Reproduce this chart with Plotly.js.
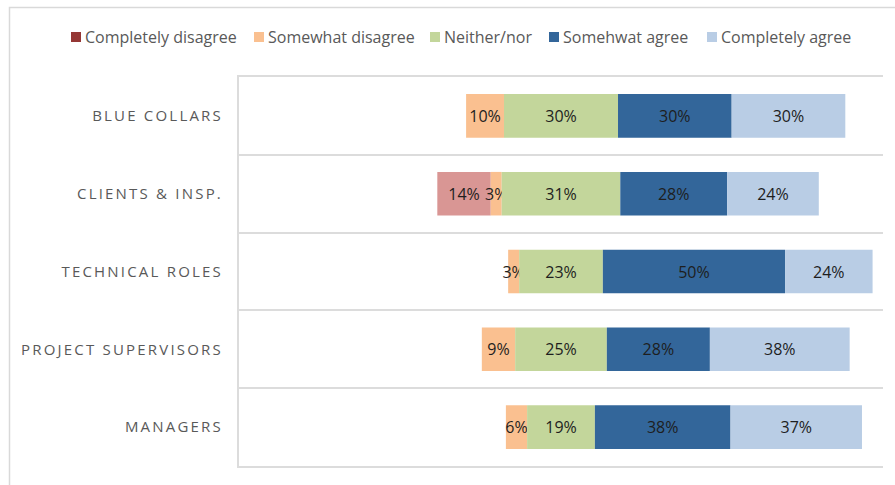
<!DOCTYPE html>
<html>
<head>
<meta charset="utf-8">
<script src="https://cdn.plot.ly/plotly-3.0.1.min.js"></script>
<style>
  html, body { margin: 0; padding: 0; background: #fff; }
  #chart { width: 895px; height: 485px; }
  #chart .ytick text { letter-spacing: 2.2px; }
</style>
</head>
<body>
<div id="chart"></div>
<script>
// Categories (top to bottom)
const categories = ['BLUE COLLARS', 'CLIENTS & INSP.', 'TECHNICAL ROLES', 'PROJECT SUPERVISORS', 'MANAGERS'];
const seriesNames = ['Completely disagree', 'Somewhat disagree', 'Neither/nor', 'Somehwat agree', 'Completely agree'];

// Bar lengths
const completelyDisagree = [0, 14.1, 0, 0, 0];
const somewhatDisagree   = [10.0, 2.9, 2.9, 8.8, 5.6];
const neitherNor         = [30.1, 31.3, 22.1, 24.2, 17.9];
const somewhatAgree      = [30.0, 28.2, 48.1, 27.2, 35.8];
const completelyAgree    = [30.0, 24.2, 23.1, 36.9, 34.7];

// Printed data labels
const cdLabels = ['', '14%', '', '', ''];
const sdLabels = ['10%', '3%', '3%', '9%', '6%'];
const nnLabels = ['30%', '31%', '23%', '25%', '19%'];
const saLabels = ['30%', '28%', '50%', '28%', '38%'];
const caLabels = ['30%', '24%', '24%', '38%', '37%'];

const barColors    = ['#d99694', '#fac090', '#c3d69b', '#33669a', '#b9cde5'];
const legendColors = ['#953735', '#fac090', '#c3d69b', '#33669a', '#b9cde5'];

// diverging bases: Neither/nor centred on zero
const nnBase = neitherNor.map(v => -v / 2);
const sdBase = neitherNor.map((v, i) => -v / 2 - somewhatDisagree[i]);
const cdBase = neitherNor.map((v, i) => -v / 2 - somewhatDisagree[i] - completelyDisagree[i]);
const saBase = neitherNor.map(v => v / 2);
const caBase = neitherNor.map((v, i) => v / 2 + somewhatAgree[i]);

const seriesVals = [completelyDisagree, somewhatDisagree, neitherNor, somewhatAgree, completelyAgree];
const seriesBase = [cdBase, sdBase, nnBase, saBase, caBase];
const seriesText = [cdLabels, sdLabels, nnLabels, saLabels, caLabels];

const traces = seriesVals.map((vals, k) => ({
  type: 'bar',
  orientation: 'h',
  name: seriesNames[k],
  y: categories,
  x: vals,
  base: seriesBase[k],
  text: seriesText[k],
  textposition: 'inside',
  insidetextanchor: 'middle',
  textangle: 0,
  constraintext: 'none',
  cliponaxis: false,
  textfont: { family: 'Open Sans, sans-serif', size: 16, color: '#1e1e1e' },
  marker: { color: barColors[k], line: { width: 0 } },
  hoverinfo: 'skip',
  showlegend: false
}));

// page geometry
const W = 895, H = 485;
const M = { l: 239, r: 12, t: 77, b: 19 };
const PW = W - M.l - M.r, PH = H - M.t - M.b;
const px2x = px => (px - M.l) / PW;
const py2y = py => (H - M.b - py) / PH;

// manual legend (square + text)
const legendSquareX = [71, 254, 430, 549, 707];
const legendY = 37;
const shapes = [];
const annotations = [];
seriesNames.forEach((nm, k) => {
  shapes.push({
    type: 'rect', xref: 'paper', yref: 'paper',
    x0: px2x(legendSquareX[k]), x1: px2x(legendSquareX[k] + 10),
    y0: py2y(legendY + 5), y1: py2y(legendY - 5),
    fillcolor: legendColors[k], line: { width: 0 }
  });
  annotations.push({
    xref: 'paper', yref: 'paper',
    x: px2x(legendSquareX[k] + 12), y: py2y(legendY),
    xanchor: 'left', yanchor: 'middle', showarrow: false,
    text: nm,
    font: { family: 'Open Sans, sans-serif', size: 16, color: '#595959' }
  });
});
// outer chart border
shapes.push({
  type: 'rect', xref: 'paper', yref: 'paper', layer: 'below',
  x0: px2x(9.5), x1: px2x(905), y0: py2y(495), y1: py2y(7.5),
  line: { color: '#d9d9d9', width: 1.5 }, fillcolor: 'rgba(0,0,0,0)'
});

const layout = {
  width: W, height: H,
  margin: M,
  paper_bgcolor: '#fff', plot_bgcolor: '#fff',
  barmode: 'overlay',
  bargap: 0.44,
  showlegend: false,
  xaxis: {
    range: [-85, 85],
    showgrid: false, zeroline: false, showticklabels: false, ticks: '',
    showline: true, mirror: true, linecolor: '#dcdcdc', linewidth: 2,
    fixedrange: true
  },
  yaxis: {
    type: 'category',
    categoryorder: 'array', categoryarray: categories,
    autorange: 'reversed',
    tickson: 'boundaries',
    ticks: '',
    showgrid: true, gridcolor: '#dcdcdc', gridwidth: 2,
    showline: true, linecolor: '#dcdcdc', linewidth: 2,
    ticklabelstandoff: 11,
    tickfont: { family: 'Open Sans, sans-serif', size: 15, color: '#595959' },
    fixedrange: true
  },
  shapes: shapes,
  annotations: annotations
};

Plotly.newPlot('chart', traces, layout, { displayModeBar: false, staticPlot: true });
</script>
</body>
</html>
